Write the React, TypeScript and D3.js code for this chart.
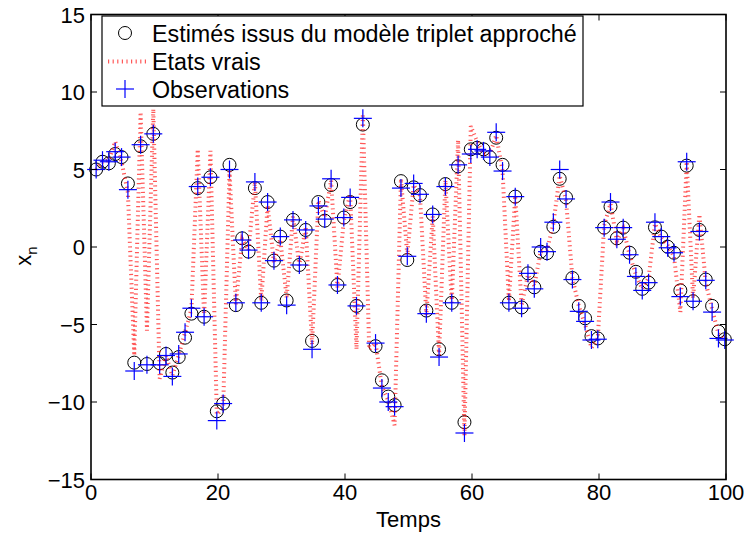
import React from "react";
import * as d3 from "d3";

const T: number[] = d3.range(1, 101);

const estimates: (number | null)[] = [
  5.0, 5.5, 5.4, 6.0, 5.8, 4.1, -7.46, 6.5, -7.55, 7.3,
  -7.5, -6.9, -8.1, -7.1, -5.85, -4.3, 3.8, -4.5, 4.5, -10.6,
  -10.1, 5.3, -3.75, 0.56, -0.3, 3.8, -3.6, 2.9, -0.88, 0.67,
  -3.45, 1.75, -1.16, 1.1, -6.06, 2.9, 1.7, 4.0, -2.45, 1.9,
  2.9, -3.8, 7.9, null, -6.4, -8.6, -9.65, -10.2, 4.25, -0.84,
  3.85, 3.35, -4.1, 2.1, -6.6, 4.06, -3.6, 5.2, -11.3, 6.3,
  6.4, 6.3, 5.8, 7.05, 5.3, -3.6, 3.25, -3.9, -1.7, -2.6,
  -0.3, -0.4, 1.3, 4.4, 3.2, -2.0, -3.8, -4.6, -5.75, -5.9,
  1.25, 2.6, 0.56, 1.25, -0.37, -1.6, -2.7, -2.3, 1.27, 0.67,
  0.02, -0.37, -2.8, 5.25, -3.5, 1.1, -2.1, -3.8, -5.45, -5.95,
];

const trueStates: number[] = [
  5.0, 5.5, 5.6, 6.8, 5.5, 3.5, -7.0, 8.7, -5.4, 8.9,
  -8.5, -7.0, -8.3, -7.0, -5.5, -4.0, 6.3, -4.5, 6.2, -10.8,
  -10.4, 4.9, -3.7, 0.5, -0.2, 4.2, -3.5, 2.7, -1.0, 0.5,
  -3.3, 2.0, -1.2, 1.3, -6.3, 3.0, 1.9, 4.3, -2.6, 1.7,
  3.4, -6.6, 8.6, -6.6, -6.2, -9.0, -9.9, -11.5, 4.4, -0.5,
  4.0, 3.3, -4.4, 2.0, -7.0, 4.3, -3.6, 6.9, -12.2, 7.8,
  6.8, 6.0, 6.0, 7.2, 4.9, -3.5, 3.3, -3.8, -1.8, -2.5,
  -0.3, -0.2, 1.5, 4.6, 3.0, -2.0, -3.8, -5.0, -6.5, -5.9,
  1.4, 2.8, 0.4, 1.2, -0.5, -1.8, -2.7, -2.0, 1.5, 0.6,
  0.1, -0.6, -4.2, 5.5, -3.3, 2.1, -2.3, -4.0, -5.6, -6.0,
];

const observations: (number | null)[] = [
  5.0, 5.6, 5.5, 6.15, 5.8, 3.7, -8.0, 6.6, -7.6, 7.3,
  -7.6, -7.0, -8.35, -6.9, -5.5, -3.95, 3.9, -4.5, 4.5, -11.2,
  -10.1, 5.0, -3.6, 0.45, -0.2, 4.2, -3.6, 2.9, -0.88, 0.67,
  -3.75, 1.75, -1.16, 1.1, -6.6, 2.65, 1.8, 4.4, -2.45, 1.9,
  3.2, -3.8, 8.3, null, -6.2, -9.1, -10.0, -10.3, 3.8, -0.6,
  4.1, 3.4, -4.3, 2.1, -7.1, 3.9, -3.6, 5.3, -12.0, 6.0,
  6.3, 6.2, 5.8, 7.4, 4.9, -3.6, 3.25, -3.95, -1.7, -2.7,
  0.0, -0.3, 1.6, 5.0, 3.1, -2.1, -4.15, -4.8, -6.0, -5.95,
  1.25, 2.9, 0.5, 1.25, -0.5, -1.9, -2.8, -2.3, 1.6, 0.67,
  -0.05, -0.37, -3.2, 5.5, -3.5, 1.0, -2.15, -4.2, -5.9, -6.0,
];

const xTicks: number[] = [0, 20, 40, 60, 80, 100];
const yTicks: number[] = [-15, -10, -5, 0, 5, 10, 15];

const legendLabels: string[] = [
  "Estimés issus du modèle triplet approché",
  "Etats vrais",
  "Observations",
];
const xLabel = "Temps";

const W = 744;
const H = 537;
const L = 91;
const R = 726;
const TOP = 14.5;
const BOT = 479.5;
const FONT = "'Liberation Sans', Arial, Helvetica, sans-serif";

export default function App() {
  const x = d3.scaleLinear().domain([0, 100]).range([L, R]);
  const y = d3.scaleLinear().domain([-15, 15]).range([BOT, TOP]);
  // markers sit slightly left of integer times in the reference
  const px = (i: number) => x(T[i]) - 1.2;

  const trueLine = d3
    .line<number>()
    .x((_, i) => px(i))
    .y((d) => y(d))(trueStates) as string;

  const fmt = (v: number) => (v < 0 ? "\u2212" + Math.abs(v) : String(v));
  const tick = 6;
  const plusHalf = 9;

  return (
    <svg
      width={W}
      height={H}
      style={{ position: "absolute", left: 0, top: 0, background: "#fff" }}
      fontFamily={FONT}
    >
      <rect x={0} y={0} width={W} height={H} fill="#fff" />
      <g fill="none" stroke="#000" strokeWidth={1}>
        {estimates.map((v, i) =>
          v === null ? null : <circle key={i} cx={px(i)} cy={y(v)} r={6.5} />
        )}
      </g>
      <path
        d={trueLine}
        fill="none"
        stroke="#ff0000"
        strokeOpacity={0.65}
        strokeWidth={4}
        strokeDasharray="1.2 3.4"
      />
      <g stroke="#0000ff" strokeWidth={1.2}>
        {observations.map((v, i) =>
          v === null ? null : (
            <g key={i}>
              <line x1={px(i) - plusHalf} x2={px(i) + plusHalf} y1={y(v)} y2={y(v)} />
              <line x1={px(i)} x2={px(i)} y1={y(v) - plusHalf} y2={y(v) + plusHalf} />
            </g>
          )
        )}
      </g>
      <g stroke="#000" strokeWidth={1}>
        {xTicks.map((t) => (
          <g key={"xt" + t}>
            <line x1={x(t)} x2={x(t)} y1={BOT} y2={BOT - tick} />
            <line x1={x(t)} x2={x(t)} y1={TOP} y2={TOP + tick} />
          </g>
        ))}
        {yTicks.map((t) => (
          <g key={"yt" + t}>
            <line x1={L} x2={L + tick} y1={y(t)} y2={y(t)} />
            <line x1={R} x2={R - tick} y1={y(t)} y2={y(t)} />
          </g>
        ))}
      </g>
      <rect
        x={L}
        y={TOP}
        width={R - L}
        height={BOT - TOP}
        fill="none"
        stroke="#000"
        strokeWidth={1.6}
      />
      <g fontSize={22} fill="#000">
        {xTicks.map((t) => (
          <text key={"xl" + t} x={x(t)} y={499.5} textAnchor="middle">
            {fmt(t)}
          </text>
        ))}
        {yTicks.map((t) => (
          <text key={"yl" + t} x={85} y={y(t) + 8} textAnchor="end">
            {fmt(t)}
          </text>
        ))}
        <text x={(L + R) / 2} y={527} textAnchor="middle">
          {xLabel}
        </text>
        <text transform="translate(31,256) rotate(-90)" textAnchor="middle">
          x<tspan fontSize={15} dy={6}>n</tspan>
        </text>
      </g>
      <g>
        <rect x={102} y={16} width={481} height={90} fill="#fff" stroke="#000" strokeWidth={1.2} />
        <circle cx={125} cy={33} r={6.5} fill="none" stroke="#000" strokeWidth={1} />
        <line
          x1={108}
          x2={146}
          y1={61.5}
          y2={61.5}
          stroke="#ff0000"
          strokeOpacity={0.65}
          strokeWidth={4}
          strokeDasharray="1.2 3.4"
        />
        <line x1={116} x2={134} y1={89} y2={89} stroke="#0000ff" strokeWidth={1.2} />
        <line x1={125} x2={125} y1={80} y2={98} stroke="#0000ff" strokeWidth={1.2} />
        {legendLabels.map((s, i) => (
          <text key={s} x={152} y={41.5 + i * 28} fontSize={23.3} fill="#000">
            {s}
          </text>
        ))}
      </g>
    </svg>
  );
}
